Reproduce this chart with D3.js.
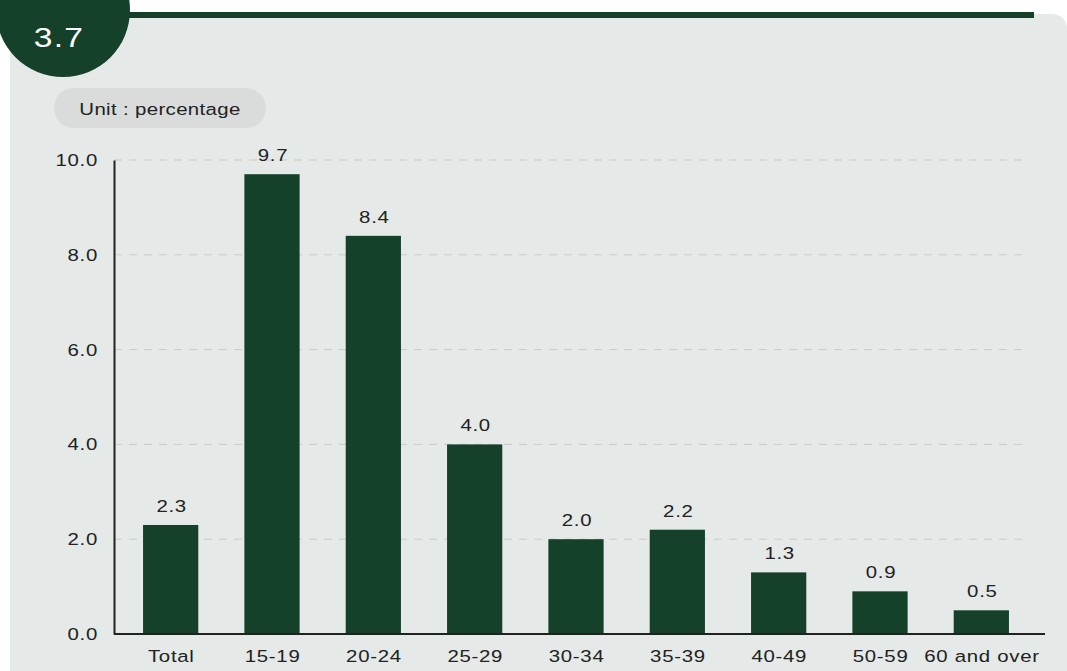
<!DOCTYPE html>
<html><head><meta charset="utf-8">
<script src="https://cdn.jsdelivr.net/npm/d3@7"></script>
<style>body{margin:0;background:#fff}svg{display:block;font-family:"Liberation Sans",Arial,sans-serif}</style>
</head><body>
<svg id="c" width="1067" height="671"></svg>
<script>
const categories = ["Total","15-19","20-24","25-29","30-34","35-39","40-49","50-59","60 and over"];
const values = [2.3,9.7,8.4,4.0,2.0,2.2,1.3,0.9,0.5];
const yTicks = [0,2,4,6,8,10];
const chartNumber = "3.7";
const unitLabel = "Unit : percentage";

const svg = d3.select("#c");
const green = "#15402a";
const SX = 1.2, LS = "0.6px";

// panel
svg.append("path").attr("d","M10,14 H1050 Q1067,14 1067,30 V671 H10 Z").attr("fill","#e5e9e8");
svg.append("rect").attr("x",128).attr("y",12).attr("width",906).attr("height",6).attr("fill",green);
svg.append("circle").attr("cx",63).attr("cy",10).attr("r",67).attr("fill",green);
svg.append("text").attr("transform",`translate(59,47) scale(${SX},1)`).attr("text-anchor","middle").attr("fill","#fff")
  .attr("font-size",28).attr("letter-spacing","1px").text(chartNumber);

// unit pill
svg.append("rect").attr("x",54).attr("y",88).attr("width",212).attr("height",40).attr("rx",20).attr("fill","#d9dcdb");
svg.append("text").attr("transform",`translate(160,115) scale(${SX},1)`).attr("text-anchor","middle").attr("font-size",17)
  .attr("letter-spacing","0.3px").attr("fill","#222").text(unitLabel);

const x = d3.scaleBand().domain(categories).range([120,1032]).paddingInner(0.455).paddingOuter(0.2275);
const y = d3.scaleLinear().domain([0,10]).range([634,160]);

// grid
svg.append("g").selectAll("line").data(yTicks.filter(d=>d>0)).join("line")
  .attr("x1",114).attr("x2",1027).attr("y1",d=>y(d)).attr("y2",d=>y(d))
  .attr("stroke","#c9cbca").attr("stroke-width",1).attr("stroke-dasharray","8,7");

// bars
svg.append("g").selectAll("rect").data(values).join("rect")
  .attr("x",(d,i)=>x(categories[i])).attr("width",x.bandwidth())
  .attr("y",d=>y(d)).attr("height",d=>y(0)-y(d)).attr("fill",green);

svg.append("g").selectAll("text").data(values).join("text")
  .attr("transform",(d,i)=>`translate(${x(categories[i])+x.bandwidth()/2+1},${y(d)-13}) scale(${SX},1)`)
  .attr("text-anchor","middle").attr("font-size",17).attr("letter-spacing",LS)
  .attr("fill","#222").text(d=>d.toFixed(1));

// axes
const ya = svg.append("g").attr("transform","translate(114,0)")
  .call(d3.axisLeft(y).tickValues(yTicks).tickFormat(d3.format(".1f")).tickSize(0).tickPadding(16));
ya.select(".domain").attr("stroke","#222").attr("stroke-width",2);
ya.selectAll("text").attr("font-size",17).attr("fill","#222").attr("letter-spacing",LS)
  .attr("x",-16/SX).attr("transform",`scale(${SX},1)`)
  .attr("font-family","Liberation Sans, Arial, sans-serif");

const xa = svg.append("g").attr("transform","translate(0,634)")
  .call(d3.axisBottom(x).tickSize(0).tickPadding(16));
xa.select(".domain").attr("d","M114,0H1045").attr("stroke","#222").attr("stroke-width",2);
xa.selectAll("text").attr("font-size",17).attr("fill","#222").attr("letter-spacing",LS)
  .attr("transform",`scale(${SX},1)`).attr("dx","0.5")
  .attr("font-family","Liberation Sans, Arial, sans-serif");
</script>
</body></html>
